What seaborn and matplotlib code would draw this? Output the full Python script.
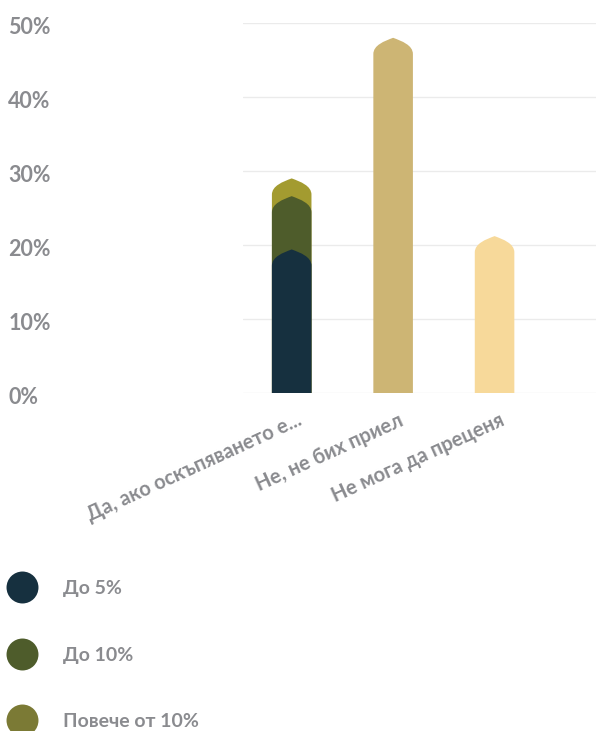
import numpy as np
import pandas as pd
import matplotlib
matplotlib.use("Agg")
import matplotlib.pyplot as plt
import matplotlib.transforms as mtransforms
from matplotlib.path import Path
from matplotlib.patches import PathPatch, Rectangle
from matplotlib.lines import Line2D
import seaborn as sns

# Answer categories
categories = ["Да, ако оскъпяването е...", "Не, не бих приел", "Не мога да преценя"]

# Breakdown of the first answer (percent of respondents)
series_names = ["До 5%", "До 10%", "Повече от 10%"]
first_answer_parts = [19.4, 7.2, 2.4]

# Remaining answers (percent of respondents)
other_answers = [48.0, 21.2]

y_ticks = [0, 10, 20, 30, 40, 50]
y_tick_labels = ["0%", "10%", "20%", "30%", "40%", "50%"]

series_colors = ["#16303f", "#4e5c2b", "#a39b30"]
legend_colors = ["#16303f", "#4e5c2b", "#7b7a35"]
other_colors = ["#cdb574", "#f7d99a"]
text_color = "#8a8b8f"
grid_color = "#ebebeb"

sns.set_theme(style="white")
plt.rcParams["font.family"] = ["Lato", "DejaVu Sans"]

fig = plt.figure(figsize=(5.96, 7.31), dpi=100)
ax = fig.add_axes([243 / 596, 1 - 393 / 731, 1 - 243 / 596, (393 - 23) / 731])

bar_width = 0.39

# Tallest layers first so the shorter ones sit in front of them
cumulative = np.cumsum(first_answer_parts)
top_heights = [cumulative[-1]] + other_answers
sns.barplot(x=categories, y=top_heights, hue=categories,
            palette=[series_colors[2]] + other_colors, order=categories,
            width=bar_width, legend=False, ax=ax, saturation=1)
for level, color in zip([cumulative[1], cumulative[0]], [series_colors[1], series_colors[0]]):
    sns.barplot(x=[categories[0]], y=[level], order=categories, color=color,
                width=bar_width, ax=ax, saturation=1)

# Reshape every bar into a column with a pointed arch on top
arch = 2.2
rects = [p for p in ax.patches if isinstance(p, Rectangle)]
for z, r in enumerate(rects):
    x0, w, h = r.get_x(), r.get_width(), r.get_height()
    if not np.isfinite(h) or h <= 0:
        r.remove()
        continue
    fc = r.get_facecolor()
    xc = x0 + w / 2
    s = h - arch
    verts = [
        (x0, 0), (x0, s),
        (x0, s + 0.55 * arch), (xc - 0.22 * w, h - 0.2 * arch), (xc, h),
        (xc + 0.22 * w, h - 0.2 * arch), (x0 + w, s + 0.55 * arch), (x0 + w, s),
        (x0 + w, 0), (x0, 0),
    ]
    codes = [Path.MOVETO, Path.LINETO,
             Path.CURVE4, Path.CURVE4, Path.CURVE4,
             Path.CURVE4, Path.CURVE4, Path.CURVE4,
             Path.LINETO, Path.CLOSEPOLY]
    r.remove()
    ax.add_patch(PathPatch(Path(verts, codes), facecolor=fc, edgecolor="none",
                           zorder=2 + z * 0.01))

ax.set_xlim(-0.48, 3.0)
ax.set_ylim(0, 50)
ax.set_yticks(y_ticks)
ax.set_yticklabels(y_tick_labels)
ax.yaxis.grid(True, color=grid_color, linewidth=1)
ax.set_axisbelow(True)
for sp in ax.spines.values():
    sp.set_visible(False)
ax.set_xlabel("")
ax.set_ylabel("")

ax.tick_params(axis="y", length=0, pad=169, labelsize=15.5, labelcolor=text_color)
down = mtransforms.ScaledTranslation(0, -4 / 100, fig.dpi_scale_trans)
for lbl in ax.get_yticklabels():
    lbl.set_horizontalalignment("left")
    lbl.set_fontweight("bold")
    lbl.set_va("center")
    lbl.set_transform(lbl.get_transform() + down)

ax.set_xticks(range(len(categories)))
ax.set_xticklabels(categories)
ax.tick_params(axis="x", length=0, pad=19, labelsize=14.5, labelcolor=text_color)
nudge = mtransforms.ScaledTranslation(9 / 100, 0, fig.dpi_scale_trans)
for lbl in ax.get_xticklabels():
    lbl.set_rotation(24.5)
    lbl.set_ha("right")
    lbl.set_va("center")
    lbl.set_rotation_mode("anchor")
    lbl.set_fontweight("bold")
    lbl.set_transform(lbl.get_transform() + nudge)

handles = [Line2D([], [], marker="o", linestyle="none", markersize=23,
                  markerfacecolor=c, markeredgecolor="none") for c in legend_colors]
leg = fig.legend(handles, series_names, loc="upper left",
                 bbox_to_anchor=(6 / 596, 1 - 580 / 731), frameon=False,
                 fontsize=14, labelspacing=2.55, handletextpad=1.35,
                 handlelength=1.6, borderaxespad=0, borderpad=0)
for t in leg.get_texts():
    t.set_color(text_color)
    t.set_fontweight("bold")

fig.savefig("out.png", dpi=100)
